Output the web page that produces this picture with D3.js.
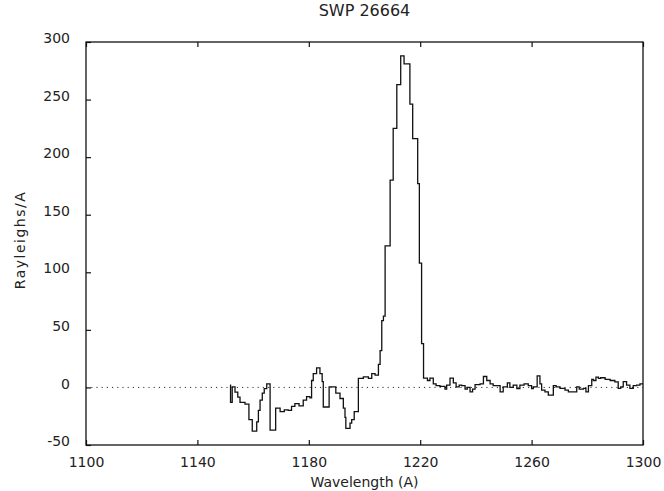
<!DOCTYPE html>
<html>
<head>
<meta charset="utf-8">
<script src="https://cdn.jsdelivr.net/npm/d3@7"></script>
<style>
  body { margin: 0; background: #fff; }
  text { font-family: "DejaVu Sans", sans-serif; fill: #222; }
</style>
</head>
<body>
<div id="root"></div>
<script>
// Spectrum SWP 26664, step histogram: left edge of each step (A) and its value
const waveEdges = [1151.7, 1151.9, 1152.5, 1153.5, 1154.5, 1155.3, 1157.1, 1158.5, 1159.7, 1161.3, 1161.9, 1162.5, 1163.3, 1164.0, 1164.9, 1166.1, 1168.1, 1169.7, 1171.2, 1172.6, 1173.8, 1175.0, 1176.5, 1178.0, 1179.2,
  1180.4, 1181.0, 1181.6, 1182.8, 1184.0, 1184.8, 1185.2, 1187.3, 1189.7, 1191.2, 1192.4, 1193.0, 1193.3, 1194.8, 1195.4, 1196.3, 1197.8, 1199.6, 1201.4, 1202.6, 1203.8, 1205.0,
  1205.6, 1206.2, 1206.8, 1207.4, 1209.2, 1210.3, 1211.6, 1213.0, 1214.2, 1216.3, 1217.3, 1219.1, 1219.7, 1220.5, 1221.2,
  1222.6, 1223.5, 1224.7, 1225.7, 1227.1, 1228.9, 1229.5, 1230.7, 1231.9, 1232.9, 1234.0, 1234.9, 1236.1, 1236.9, 1237.9, 1238.8, 1239.7, 1241.5, 1242.7, 1243.9,
  1245.1, 1246.2, 1248.7, 1249.8, 1251.3, 1252.2, 1253.4, 1254.7, 1255.8, 1257.3, 1258.8, 1260.0, 1260.6, 1262.0, 1263.0, 1263.6, 1264.8, 1266.0, 1267.8, 1268.8,
  1270.2, 1272.0, 1273.2, 1276.2, 1277.1, 1278.6, 1279.5, 1280.4, 1281.6, 1282.2, 1283.1, 1284.0, 1284.8, 1286.4, 1288.2, 1289.9, 1291.1, 1292.0, 1292.9, 1294.1,
  1295.3, 1296.5, 1297.7, 1298.9];
const waveEnd = 1300;

const flux = [2, -13, 0.5, -4, -8.5, -13, -14.5, -28, -38, -30, -20, -11, -5, -1, 3, -37, -18, -21, -19.5, -20, -16.5, -14, -16, -11, -8,
  -9, 6, 12, 17, 12, 5, -17, 0.5, -5, -9.6, -18, -26, -35.5, -31, -28, -21, 7.8, 9.2, 7.8, 12, 10.7, 20,
  32, 58, 62, 123, 180, 225, 263, 288, 281, 246, 216, 177, 108, 38, 8,
  6, 8, 3, 1.5, 1, -1.5, 2, 8, 4, 0.5, 2, 1.5, -1.5, 0, -3.8, -1.5, 2.5, 3, 9.5, 6,
  3, 1.5, -3.8, 0.5, 4, 0, 2, -1, 2, 3, 1.5, -1, 0.5, 10, 3, -2.4, -3.8, -6.7, 1.5, 0.5,
  -0.9, -2.4, -3.8, 0.5, -1.5, -0.9, -3.8, 1.5, 7, 6, 9, 7.8, 8.4, 7, 6, 4.9, -0.9, 0.5, 5, 2,
  -0.9, 1.5, 2, 3];

const xTicks = [1100, 1140, 1180, 1220, 1260, 1300];
const yTicks = [-50, 0, 50, 100, 150, 200, 250, 300];

const width = 664;
const height = 491;
const plotLeft = 86, plotRight = 643, plotTop = 42, plotBottom = 445;

const svg = d3.select("#root").append("svg")
  .attr("width", width)
  .attr("height", height);

const x = d3.scaleLinear().domain([1100, 1300]).range([plotLeft, plotRight]);
const y = d3.scaleLinear().domain([-50, 300]).range([plotBottom, plotTop]);

// zero level, dotted
svg.append("line")
  .attr("x1", plotLeft).attr("x2", plotRight)
  .attr("y1", y(0)).attr("y2", y(0))
  .attr("stroke", "#333")
  .attr("stroke-width", 1)
  .attr("stroke-dasharray", "1.2,4");

// axes with inward ticks
const fmt = d => String(d);

const gx = svg.append("g")
  .attr("transform", `translate(0,${plotBottom})`)
  .call(d3.axisBottom(x).tickValues(xTicks).tickSize(-5).tickPadding(12).tickFormat(fmt));
const gxTop = svg.append("g")
  .attr("transform", `translate(0,${plotTop})`)
  .call(d3.axisTop(x).tickValues(xTicks).tickSize(-5).tickFormat(""));
const gy = svg.append("g")
  .attr("transform", `translate(${plotLeft},0)`)
  .call(d3.axisLeft(y).tickValues(yTicks).tickSize(-5).tickPadding(16).tickFormat(fmt));

[gx, gxTop, gy].forEach(g => {
  g.select(".domain").remove();
  g.selectAll(".tick line").attr("stroke", "#111").attr("stroke-width", 1.2);
  g.selectAll(".tick text")
    .style("font-family", "'DejaVu Sans', sans-serif")
    .style("font-size", "14px")
    .attr("fill", "#222");
});
gy.selectAll(".tick text").attr("dy", "0.05em");

// frame
svg.append("rect")
  .attr("x", plotLeft).attr("y", plotTop)
  .attr("width", plotRight - plotLeft).attr("height", plotBottom - plotTop)
  .attr("fill", "none")
  .attr("stroke", "#111")
  .attr("stroke-width", 1.3);

// the spectrum as a step line
const points = waveEdges.map((w, i) => [w, flux[i]]);
points.push([waveEnd, flux[flux.length - 1]]);

const line = d3.line()
  .x(d => x(d[0]))
  .y(d => y(d[1]))
  .curve(d3.curveStepAfter);

svg.append("path")
  .datum(points)
  .attr("fill", "none")
  .attr("stroke", "#111")
  .attr("stroke-width", 1.3)
  .attr("d", line);

// labels
svg.append("text")
  .attr("x", (plotLeft + plotRight) / 2)
  .attr("y", 16)
  .attr("text-anchor", "middle")
  .style("font-size", "16px")
  .text("SWP 26664");

svg.append("text")
  .attr("x", (plotLeft + plotRight) / 2)
  .attr("y", 487)
  .attr("text-anchor", "middle")
  .style("font-size", "14px")
  .text("Wavelength (A)");

svg.append("text")
  .attr("transform", `translate(25,240) rotate(-90)`)
  .attr("text-anchor", "middle")
  .style("font-size", "14px")
  .style("letter-spacing", "1.5px")
  .text("Rayleighs/A");
</script>
</body>
</html>
